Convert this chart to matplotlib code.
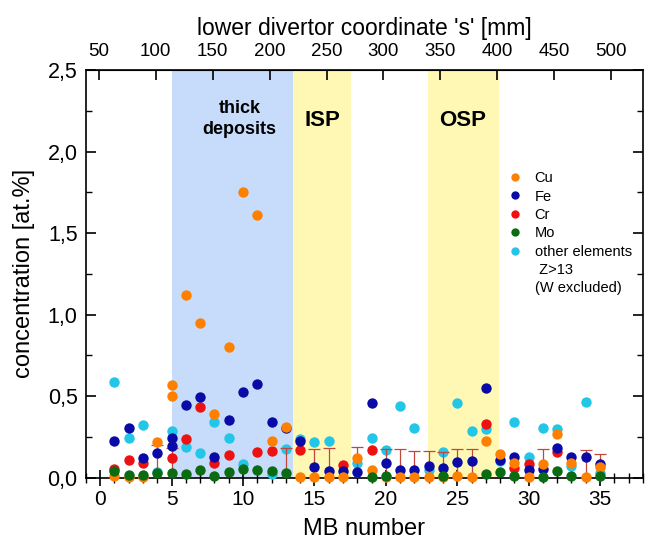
import matplotlib
matplotlib.use("Agg")
import matplotlib.pyplot as plt
from matplotlib.lines import Line2D
from matplotlib.ticker import MultipleLocator, FuncFormatter

plt.rcParams['font.family'] = ['Liberation Sans', 'DejaVu Sans']

# ---- data (MB number, concentration at.%) ----
cu_x = [1, 2, 3, 4, 5, 5, 6, 7, 8, 9, 10, 11, 12, 13, 14, 15, 16, 17, 18, 19, 20, 21, 22, 23, 24, 25, 26, 27, 28, 29, 30, 31, 32, 33, 34, 35]
cu_y = [0.01, 0.005, 0.005, 0.217, 0.57, 0.50, 1.12, 0.95, 0.39, 0.80, 1.75, 1.61, 0.225, 0.313, 0.005, 0.005, 0.005, 0.005, 0.12, 0.045, 0.005, 0.005, 0.005, 0.005, 0.005, 0.01, 0.005, 0.227, 0.145, 0.092, 0.005, 0.086, 0.266, 0.088, 0.005, 0.066]

fe_x = [1, 2, 3, 4, 5, 5, 6, 7, 8, 9, 10, 11, 12, 13, 14, 15, 16, 17, 18, 19, 20, 21, 22, 23, 24, 25, 26, 27, 28, 29, 30, 31, 32, 33, 34, 35]
fe_y = [0.225, 0.307, 0.123, 0.149, 0.245, 0.196, 0.446, 0.497, 0.129, 0.354, 0.528, 0.575, 0.339, 0.303, 0.225, 0.067, 0.041, 0.041, 0.033, 0.46, 0.09, 0.045, 0.045, 0.07, 0.06, 0.095, 0.10, 0.552, 0.11, 0.127, 0.047, 0.051, 0.184, 0.129, 0.127, 0.086]

cr_x = [1, 2, 3, 5, 6, 7, 8, 9, 11, 12, 14, 17, 19, 27, 29, 30, 32]
cr_y = [0.055, 0.11, 0.09, 0.12, 0.235, 0.436, 0.09, 0.139, 0.16, 0.166, 0.168, 0.08, 0.17, 0.327, 0.061, 0.086, 0.157]

mo_x = [1, 2, 3, 4, 5, 6, 7, 8, 9, 10, 11, 12, 13, 19, 20, 24, 27, 28, 29, 31, 32, 33, 35]
mo_y = [0.04, 0.015, 0.015, 0.03, 0.03, 0.025, 0.045, 0.01, 0.035, 0.055, 0.05, 0.042, 0.03, 0.005, 0.01, 0.01, 0.025, 0.035, 0.01, 0.006, 0.04, 0.01, 0.01]

oth_x = [1, 2, 3, 4, 5, 6, 7, 8, 9, 10, 12, 13, 14, 15, 16, 18, 19, 20, 21, 22, 23, 24, 25, 26, 27, 28, 29, 30, 31, 32, 33, 34, 35]
oth_y = [0.585, 0.245, 0.323, 0.033, 0.286, 0.19, 0.153, 0.344, 0.245, 0.085, 0.025, 0.176, 0.237, 0.217, 0.225, 0.088, 0.245, 0.17, 0.442, 0.307, 0.05, 0.16, 0.456, 0.288, 0.298, 0.10, 0.344, 0.127, 0.307, 0.30, 0.07, 0.464, 0.03]

# error bars (centred on ~0, only upper half visible)
err_x = [4, 5, 13, 15, 16, 18, 20, 21, 22, 23, 24, 25, 26, 31, 34, 35]
err_y = [0.0] * len(err_x)
err_v = [0.20, 0.18, 0.18, 0.174, 0.18, 0.19, 0.174, 0.174, 0.164, 0.166, 0.16, 0.174, 0.178, 0.178, 0.168, 0.147]

# shaded regions (MB number)
thick_span = (5.0, 13.5)
isp_span = (13.5, 17.55)
osp_span = (22.95, 27.9)

# top axis: s = S0 + K*(MB + M0)
S0, K, M0 = 50.0, 12.54, 0.1
top_ticks = [50, 100, 150, 200, 250, 300, 350, 400, 450, 500]

c_cu = '#ff8000'
c_fe = '#0a0aa6'
c_cr = '#ee1111'
c_mo = '#0b6b12'
c_ot = '#22c6e6'
c_err = '#c2463e'

fig = plt.figure(figsize=(6.56, 5.45), dpi=100)
ax = fig.add_axes([0.131, 0.1235, 0.849, 0.748])

ax.axvspan(*thick_span, color='#c6dcfa', lw=0, zorder=0)
ax.axvspan(*isp_span, color='#fff8b4', lw=0, zorder=0)
ax.axvspan(*osp_span, color='#fff8b4', lw=0, zorder=0)

ms = 56
ax.scatter(oth_x, oth_y, s=ms, color=c_ot, lw=0, zorder=3, clip_on=False)
ax.errorbar(err_x, err_y, yerr=err_v, fmt='none', ecolor=c_err, elinewidth=0.9,
            capsize=4, capthick=0.9, zorder=3.5)
ax.scatter(cr_x, cr_y, s=ms, color=c_cr, lw=0, zorder=4, clip_on=False)
ax.scatter(fe_x, fe_y, s=ms, color=c_fe, lw=0, zorder=5, clip_on=False)
ax.scatter(cu_x, cu_y, s=ms, color=c_cu, lw=0, zorder=6, clip_on=False)
ax.scatter(mo_x, mo_y, s=ms, color=c_mo, lw=0, zorder=7, clip_on=False)

ax.set_xlim(-1, 38)
ax.set_ylim(0, 2.5)

ax.xaxis.set_major_locator(MultipleLocator(5))
ax.xaxis.set_minor_locator(MultipleLocator(1))
ax.yaxis.set_major_locator(MultipleLocator(0.5))
ax.yaxis.set_minor_locator(MultipleLocator(0.25))
ax.yaxis.set_major_formatter(FuncFormatter(lambda v, p: f"{v:.1f}".replace('.', ',')))

ax.tick_params(axis='x', which='major', direction='inout', length=12, width=1.2,
               labelsize=15, pad=3, top=False)
ax.tick_params(axis='x', which='minor', direction='inout', length=7, width=1.0, top=False)
ax.tick_params(axis='y', which='major', direction='in', length=7, width=1.2,
               labelsize=15.5, pad=6, right=True)
ax.tick_params(axis='y', which='minor', direction='in', length=4, width=1.0, right=True)
for sp in ax.spines.values():
    sp.set_linewidth(1.2)

ax.set_xlabel('MB number', fontsize=17, labelpad=6)
ax.set_ylabel('concentration [at.%]', fontsize=17, labelpad=9)

secax = ax.secondary_xaxis('top', functions=(lambda m: S0 + K * (m + M0),
                                            lambda s: (s - S0) / K - M0))
secax.set_xticks(top_ticks)
secax.tick_params(direction='in', length=7, width=1.2, labelsize=13.5, pad=7)
secax.set_xlabel("lower divertor coordinate 's' [mm]", fontsize=16.5, labelpad=6)

ax.text(9.75, 2.2, 'thick\ndeposits', ha='center', va='center', fontsize=13,
        fontweight='bold', linespacing=1.3, zorder=8)
ax.text(15.55, 2.19, 'ISP', ha='center', va='center', fontsize=16, fontweight='bold', zorder=8)
ax.text(25.4, 2.19, 'OSP', ha='center', va='center', fontsize=16, fontweight='bold', zorder=8)

handles = [Line2D([], [], ls='none', marker='o', ms=6, mec='none', mfc=c) for c in
           (c_cu, c_fe, c_cr, c_mo, c_ot)]
handles += [Line2D([], [], ls='none', marker=None), Line2D([], [], ls='none', marker=None)]
labels = ['Cu', 'Fe', 'Cr', 'Mo', 'other elements', ' Z>13', '(W excluded)']
ax.legend(handles, labels, loc='upper left', bbox_to_anchor=(0.757, 0.752),
          frameon=False, fontsize=10.5, handlelength=1.0, handletextpad=0.85,
          labelspacing=0.3, borderpad=0, borderaxespad=0)

fig.savefig('out.png', dpi=100)
